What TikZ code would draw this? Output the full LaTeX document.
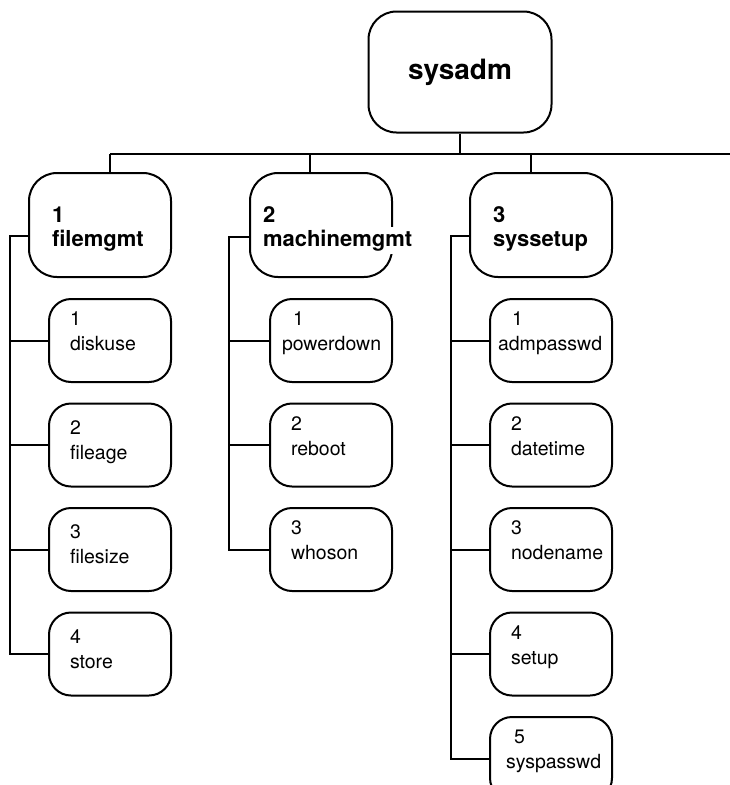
\documentclass[tikz,border=0pt]{standalone}
\usepackage{fontspec}
\setmainfont{TeX Gyre Heros}
\usetikzlibrary{positioning}
\hyphenpenalty=10000

\begin{document}
\begin{tikzpicture}[x=1pt,y=-1pt,line width=2pt,node distance=19.5pt and 0pt,
										topnode/.style={draw,rounded corners=28pt,minimum width=183pt,minimum height=121pt,font=\fontsize{28}{30}\selectfont\bfseries},
										menunode/.style={draw,rounded corners=28pt,minimum width=142pt,minimum height=104pt,inner xsep=23pt,text width=96pt,align=left,text height=0pt,text depth=6pt,font=\fontsize{22}{24}\selectfont\bfseries},
										itemnode/.style={draw,rounded corners=22pt,minimum width=122pt,minimum height=83pt,inner xsep=21pt,text width=80pt,align=left,text height=0pt,text depth=30pt,font=\fontsize{19.5}{25}\selectfont}
										]
	\useasboundingbox (0,0) rectangle (730,785);

	\node[topnode] (sysadm) at (460,72) {sysadm};
	\node[menunode] (filemgmt) at (100,225) {1\\filemgmt};
	\node[menunode,inner xsep=13pt,text width=116pt] (machinemgmt) at (321,225) {2\\\hspace*{-\fboxsep}\colorbox{white}{machinemgmt}};
	\node[menunode] (syssetup) at (541,225) {3\\syssetup};

	% filemgmt
	\node[itemnode,below left=20pt and 0pt of filemgmt.south east] (diskuse) {1\\diskuse};
	\node[itemnode,below=of diskuse,text depth=22pt] (fileage) {2\\fileage};
	\node[itemnode,below=of fileage,text depth=22pt] (filesize) {3\\filesize};
	\node[itemnode,below=of filesize,text depth=22pt] (store) {4\\store};

	% machinemgmt
	\node[itemnode,below left=20pt and 0pt of machinemgmt.south east,inner xsep=12pt,text width=98pt] (powerdown) {\hspace*{11pt}1\\powerdown};
	\node[itemnode,below=of powerdown] (reboot) {2\\reboot};
	\node[itemnode,below=of reboot] (whoson) {3\\whoson};

	% syssetup
	\node[itemnode,below left=20pt and 0pt of syssetup.south east,inner xsep=8pt,text width=106pt] (admpasswd) {\hspace*{14pt}1\\admpasswd};
	\node[itemnode,below=of admpasswd] (datetime) {2\\datetime};
	\node[itemnode,below=of datetime] (nodename) {3\\nodename};
	\node[itemnode,below=of nodename] (setup) {4\\setup};
	\node[itemnode,below=of setup,inner xsep=16pt,text width=90pt] (syspasswd) {\hspace*{8pt}5\\syspasswd};

	% top bus
	\coordinate (busL) at (110,154);
	\coordinate (busR) at (730,154);
	\draw (sysadm.south) -- (sysadm.south |- busL);
	\draw (busL) -- (busR);
	\draw ([xshift=10pt]filemgmt.north) -- (busL);
	\draw ([xshift=-11pt]machinemgmt.north) -- ([xshift=-11pt]machinemgmt.north |- busL);
	\draw ([xshift=-10pt]syssetup.north) -- ([xshift=-10pt]syssetup.north |- busL);

	% side trunks
	\draw ([yshift=-11pt]filemgmt.west) -- ++(-18pt,0) coordinate (t1) |- (store.west);
	\foreach \n in {diskuse,fileage,filesize}
		\draw (\n.west) -- (\n.west -| t1);
	\draw ([yshift=-12pt]machinemgmt.west) -- ++(-20pt,0) coordinate (t2) |- (whoson.west);
	\foreach \n in {powerdown,reboot}
		\draw (\n.west) -- (\n.west -| t2);
	\draw ([yshift=-11pt]syssetup.west) -- ++(-18pt,0) coordinate (t3) |- (syspasswd.west);
	\foreach \n in {admpasswd,datetime,nodename,setup}
		\draw (\n.west) -- (\n.west -| t3);

\end{tikzpicture}
\end{document}
